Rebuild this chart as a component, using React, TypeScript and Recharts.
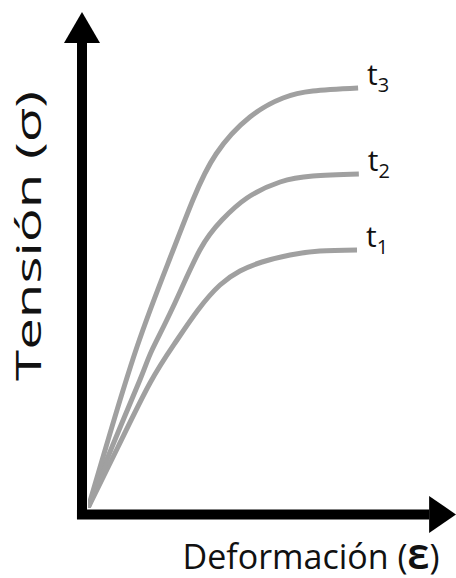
import React from 'react';
import { LineChart, Line, XAxis, YAxis, ReferenceLine, ReferenceDot } from 'recharts';

// Stress–strain curves for three times t1 < t2 < t3 (arbitrary units 0–100)
const t1Strain = [0, 8.15, 16.85, 23.64, 29.89, 35.87, 41.3, 47.3, 54.9, 63.0, 73.1];
const t1Stress = [0, 12.2, 25.0, 33.0, 39.6, 44.6, 47.4, 49.2, 50.6, 51.4, 51.6];

const t2Strain = [0, 6.52, 14.1, 17.4, 23.1, 30.4, 36.4, 43.2, 52.2, 61.1, 73.6];
const t2Stress = [0, 12.2, 25.6, 31.6, 40.2, 51.6, 57.6, 62.0, 65.2, 66.4, 66.8];

const t3Strain = [0, 4.89, 13.3, 22.3, 28.5, 34.8, 44.0, 53.0, 61.1, 73.4];
const t3Stress = [0, 12.2, 32.2, 50.0, 61.6, 70.8, 78.2, 82.0, 83.4, 84.0];

const seriesNames = ['1', '2', '3'];
const xTitle = 'Deformación';
const yTitle = 'Tensión';

const toPoints = (xs: number[], ys: number[]) => xs.map((x, i) => ({ x, y: ys[i] }));

const series = [
  { sub: seriesNames[0], data: toPoints(t1Strain, t1Stress) },
  { sub: seriesNames[1], data: toPoints(t2Strain, t2Stress) },
  { sub: seriesNames[2], data: toPoints(t3Strain, t3Stress) },
];

const FONT = '"Open Sans", "Noto Sans", sans-serif';
const GREY = '#a0a0a0';

// axis corner sits just outside the origin of the curves
const AXIS_X = -1.63;
const AXIS_Y = -1.3;

const endLabel = (sub: string, lastIndex: number) => (props: any) => {
  if (props.index !== lastIndex) return <g />;
  return (
    <text x={props.x + 9} y={props.y - 3} fontFamily={FONT} fill="#111">
      <tspan fontSize={30}>t</tspan>
      <tspan fontSize={20} dy={7}>{sub}</tspan>
    </text>
  );
};

const UpArrow = (props: any) => (
  <polygon
    points={`${props.cx - 18},${props.cy} ${props.cx + 18},${props.cy} ${props.cx},${props.cy - 31}`}
    fill="#000"
  />
);

const RightArrow = (props: any) => (
  <polygon
    points={`${props.cx},${props.cy - 18.5} ${props.cx},${props.cy + 18.5} ${props.cx + 27},${props.cy}`}
    fill="#000"
  />
);

export default function App() {
  return (
    <div style={{ position: 'fixed', left: 0, top: 0, width: 456, height: 578, background: '#fff' }}>
      <LineChart width={456} height={578} margin={{ top: 8, right: 0, left: 88, bottom: 70 }}>
        <XAxis type="number" dataKey="x" domain={[0, 100]} hide allowDataOverflow />
        <YAxis type="number" dataKey="y" domain={[0, 100]} hide width={0} allowDataOverflow />
        {series.map((s) => (
          <Line
            key={s.sub}
            data={s.data}
            dataKey="y"
            type="natural"
            stroke={GREY}
            strokeWidth={5}
            dot={false}
            isAnimationActive={false}
            label={endLabel(s.sub, s.data.length - 1)}
          />
        ))}
        <ReferenceLine
          segment={[{ x: AXIS_X, y: -2.2 }, { x: AXIS_X, y: 93 }]}
          stroke="#000"
          strokeWidth={10}
          ifOverflow="visible"
        />
        <ReferenceLine
          segment={[{ x: -3.0, y: AXIS_Y }, { x: 92.7, y: AXIS_Y }]}
          stroke="#000"
          strokeWidth={10}
          ifOverflow="visible"
        />
        <ReferenceDot x={AXIS_X} y={93} ifOverflow="visible" shape={UpArrow} />
        <ReferenceDot x={92.7} y={AXIS_Y} ifOverflow="visible" shape={RightArrow} />
      </LineChart>
      <svg width={456} height={578} style={{ position: 'absolute', left: 0, top: 0, pointerEvents: 'none' }}>
        <text x={311} y={569} textAnchor="middle" fontFamily={FONT} fontSize={34} fill="#111">
          {xTitle} (<tspan fontWeight={700}>Ɛ</tspan>)
        </text>
        <text
          x={41}
          y={236}
          textAnchor="middle"
          fontFamily={FONT}
          fontSize={34}
          fill="#111"
          textLength={290}
          lengthAdjust="spacingAndGlyphs"
          transform="rotate(-90, 41, 236)"
        >
          {yTitle} (σ)
        </text>
      </svg>
    </div>
  );
}
